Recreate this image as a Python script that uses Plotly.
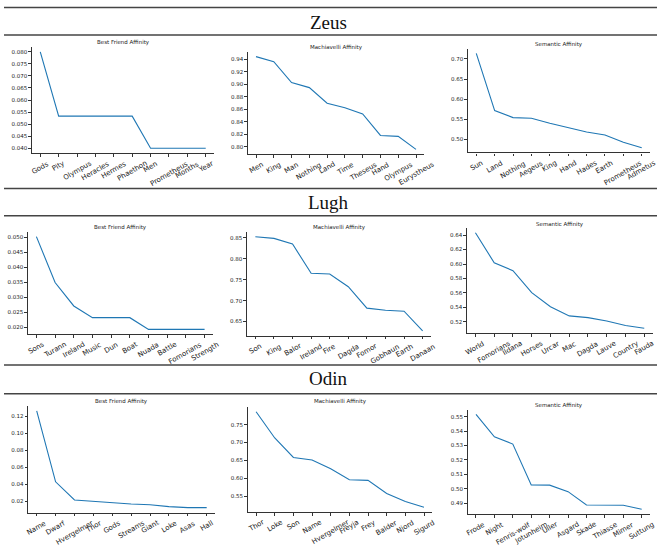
import plotly.graph_objects as go

W, H = 657, 546

# ---------------- data ----------------
zeus_bf_labels = ["Gods", "Pity", "Olympus", "Heracles", "Hermes", "Phaethon", "Men", "Prometheus", "Months", "Year"]
zeus_bf_values = [0.080, 0.0533, 0.0533, 0.0533, 0.0533, 0.0533, 0.040, 0.040, 0.040, 0.040]
zeus_mach_labels = ["Men", "King", "Man", "Nothing", "Land", "Time", "Theseus", "Hand", "Olympus", "Eurystheus"]
zeus_mach_values = [0.944, 0.936, 0.9025, 0.8945, 0.8695, 0.8624, 0.8523, 0.818, 0.8166, 0.7958]
zeus_sem_labels = ["Sun", "Land", "Nothing", "Aegeus", "King", "Hand", "Hades", "Earth", "Prometheus", "Admetus"]
zeus_sem_values = [0.714, 0.5713, 0.5539, 0.5523, 0.5398, 0.529, 0.518, 0.5107, 0.4925, 0.479]

lugh_bf_labels = ["Sons", "Turann", "Ireland", "Music", "Dun", "Boat", "Nuada", "Battle", "Fomorians", "Strength"]
lugh_bf_values = [0.0502, 0.0349, 0.0271, 0.0232, 0.0232, 0.0232, 0.0193, 0.0193, 0.0193, 0.0193]
lugh_mach_labels = ["Son", "King", "Balor", "Ireland", "Fire", "Dagda", "Fomor", "Gobhaun", "Earth", "Danaan"]
lugh_mach_values = [0.8524, 0.8485, 0.835, 0.7652, 0.7635, 0.733, 0.682, 0.677, 0.6747, 0.6275]
lugh_sem_labels = ["World", "Fomorians", "Ildana", "Horses", "Urcar", "Mac", "Dagda", "Lauve", "Country", "Fauda"]
lugh_sem_values = [0.6432, 0.6018, 0.5908, 0.5604, 0.5411, 0.5283, 0.526, 0.5214, 0.515, 0.5113]

odin_bf_labels = ["Name", "Dwarf", "Hvergelmer", "Thor", "Gods", "Streams", "Giant", "Loke", "Asas", "Hall"]
odin_bf_values = [0.1263, 0.0429, 0.0215, 0.0197, 0.0178, 0.0168, 0.016, 0.0137, 0.0125, 0.0125]
odin_mach_labels = ["Thor", "Loke", "Son", "Name", "Hvergelmer", "Freyja", "Frey", "Balder", "Njord", "Sigurd"]
odin_mach_values = [0.786, 0.7127, 0.6583, 0.651, 0.6266, 0.5958, 0.594, 0.5573, 0.535, 0.519]
odin_sem_labels = ["Frode", "Night", "Fenris-wolf", "Jotunheim", "Uller", "Asgard", "Skade", "Thiasse", "Mimer", "Suttung"]
odin_sem_values = [0.5516, 0.536, 0.531, 0.5027, 0.5025, 0.498, 0.4888, 0.4887, 0.4886, 0.4858]

section_titles = ["Zeus", "Lugh", "Odin"]
panel_titles = ["Best Friend Affinity", "Machiavelli Affinity", "Semantic Affinity"]

# ---------------- layout geometry (pixels) ----------------
panels = [
    (zeus_bf_labels, zeus_bf_values, 0, (32, 214, 47, 153), 0.005, ".3f", 43),
    (zeus_mach_labels, zeus_mach_values, 1, (248, 424, 52, 154), 0.02, ".2f", 47),
    (zeus_sem_labels, zeus_sem_values, 2, (468, 650, 48.6, 152.4), 0.05, ".2f", 44.5),
    (lugh_bf_labels, lugh_bf_values, 0, (28, 213, 232, 334), 0.005, ".3f", 227),
    (lugh_mach_labels, lugh_mach_values, 1, (247, 431, 232, 335.7), 0.05, ".2f", 227),
    (lugh_sem_labels, lugh_sem_values, 2, (467, 652.7, 228, 333), 0.02, ".2f", 224),
    (odin_bf_labels, odin_bf_values, 0, (28.2, 215.2, 406, 512.5), 0.02, ".2f", 401.7),
    (odin_mach_labels, odin_mach_values, 1, (247.7, 432.4, 407, 512), 0.05, ".2f", 401.7),
    (odin_sem_labels, odin_sem_values, 2, (467.7, 650, 409.6, 514), 0.01, ".2f", 405.5),
]
section_y = [23, 202, 378]
separator_y = [7.5, 35, 188.5, 215.7, 365, 393.7]

AXC = "#333333"
LINE = "#1f77b4"
TICKFONT = "DejaVu Sans"

fig = go.Figure()
layout = {}
annotations = []

for i, (labels, vals, tidx, box, dtick, fmt, ty) in enumerate(panels, start=1):
    xa = "x" if i == 1 else f"x{i}"
    ya = "y" if i == 1 else f"y{i}"
    xk = "xaxis" if i == 1 else f"xaxis{i}"
    yk = "yaxis" if i == 1 else f"yaxis{i}"
    l, r, t, b = box
    fig.add_trace(go.Scatter(x=labels, y=vals, mode="lines",
                             line=dict(color=LINE, width=1.1),
                             xaxis=xa, yaxis=ya, showlegend=False, hoverinfo="skip"))
    lo, hi = min(vals), max(vals)
    pad = 0.05 * (hi - lo)
    layout[xk] = dict(domain=[l / W, r / W], anchor=ya, type="category",
                      categoryorder="array", categoryarray=labels,
                      range=[-0.45, len(labels) - 0.55],
                      showline=True, linecolor=AXC, linewidth=1.2,
                      ticks="outside", ticklen=2.5, tickwidth=0.8, tickcolor=AXC,
                      showticklabels=False, showgrid=False, zeroline=False, fixedrange=True)
    layout[yk] = dict(domain=[1 - b / H, 1 - t / H], anchor=xa,
                      range=[lo - pad, hi + pad], tick0=0, dtick=dtick, tickformat=fmt,
                      showline=True, linecolor=AXC, linewidth=1.2,
                      ticks="outside", ticklen=2.5, tickwidth=0.8, tickcolor=AXC,
                      tickfont=dict(family=TICKFONT, size=5.5, color="#222222"),
                      showgrid=False, zeroline=False, fixedrange=True)
    # x tick labels, rotated and centred on the tick (matplotlib style)
    for lab in labels:
        annotations.append(dict(text=lab, x=lab, xref=xa, y=0, yref=f"{ya} domain",
                                xanchor="center", yanchor="top", yshift=-4,
                                textangle=-30, showarrow=False,
                                font=dict(family=TICKFONT, size=7, color="#222222")))
    # panel title
    annotations.append(dict(text=panel_titles[tidx], x=(l + r) / 2 / W, xref="paper",
                            y=1 - ty / H, yref="paper", xanchor="center", yanchor="middle",
                            showarrow=False,
                            font=dict(family=TICKFONT, size=5.5, color="#222222")))

for name, sy in zip(section_titles, section_y):
    annotations.append(dict(text=name, x=0.5, xref="paper", y=1 - sy / H, yref="paper",
                            xanchor="center", yanchor="middle", showarrow=False,
                            font=dict(family="Liberation Serif", size=19, color="#111111")))

shapes = []
for sy in separator_y:
    shapes.append(dict(type="line", xref="paper", yref="paper",
                       x0=4 / W, x1=1, y0=1 - sy / H, y1=1 - sy / H,
                       line=dict(color="#444444", width=1.4)))

fig.update_layout(width=W, height=H, margin=dict(l=0, r=0, t=0, b=0),
                  paper_bgcolor="white", plot_bgcolor="white",
                  annotations=annotations, shapes=shapes, **layout)

fig.write_html("out.html")
